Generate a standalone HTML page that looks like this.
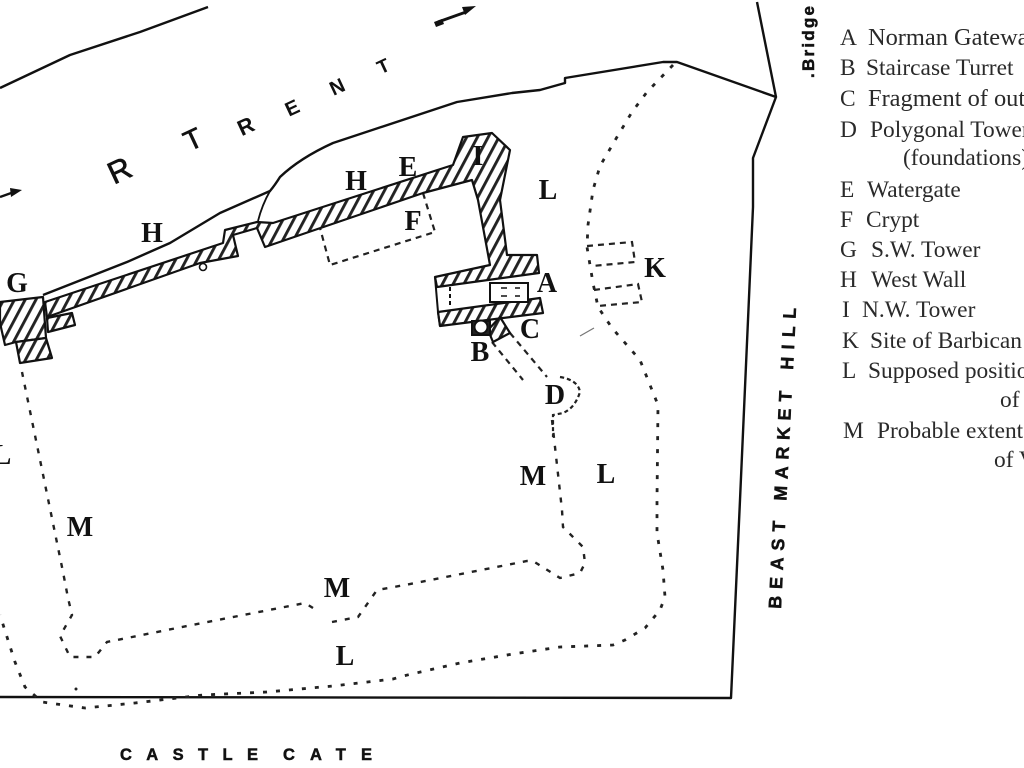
<!DOCTYPE html>
<html><head><meta charset="utf-8"><style>
html,body{margin:0;padding:0;background:#fff;width:1024px;height:768px;overflow:hidden}
svg{display:block}
.s{font-family:"Liberation Serif",serif;fill:#2a2a2a;font-size:23.4px}
.b{font-size:28px;font-weight:bold;text-anchor:middle;fill:#111;font-family:"Liberation Serif",serif}
.r{font-family:"Liberation Sans",sans-serif;fill:#111;text-anchor:middle;font-weight:bold}
.c{font-family:"Liberation Sans",sans-serif;font-weight:bold;fill:#111;stroke:#111;stroke-width:.5}
</style></head><body>
<svg width="1024" height="768" viewBox="0 0 1024 768" xmlns="http://www.w3.org/2000/svg">
<defs>
<pattern id="h" width="9.5" height="9.5" patternUnits="userSpaceOnUse" patternTransform="rotate(28)">
<rect width="9.5" height="9.5" fill="#fff"/><rect width="2.9" height="9.5" fill="#222"/>
</pattern>
</defs>
<g fill="none" stroke="#111" stroke-width="2.4" stroke-linejoin="round">
<path d="M0 88L70 55L140 32L208 7"/>
<path d="M757 2L776 97L753 158L753 207L748 320L740 500L731 698L0 697"/>
<path d="M776 97L677 62L663 62L565 78L565 83L540 90L512 93L457 102L333 143Q300 158 280 177Q275 185 270 191L220 213L170 243L127 262L43 295"/>
<path d="M270 191Q262 205 258 221" stroke-width="1.8"/>
</g>
<path d="M673 65L647 92L632 112L617 137L600 166L593 190L588 225L587 247L593 283L598 307L612 328L640 360L658 405L657 500L657 533L663 570L665 597L660 610L645 628L625 640L613 645L560 647L513 654L460 663L403 676L393 679L333 686L267 692L203 695L135 703L85 708L42 702L25 687L15 662L0 615" fill="none" stroke="#222" stroke-width="2.8" stroke-dasharray="4 9"/>
<path d="M22 372L63 572L68 598L72 615L60 636L70 657L95 657L107 642L187 626L305 603L313 608M332 622L358 617L377 590L405 585L527 561L533 561L560 578L580 573L585 563L583 547L563 527L562 510L552 420" fill="none" stroke="#222" stroke-width="2.4" stroke-dasharray="5 8"/>
<circle cx="76" cy="689" r="1.5" fill="#222"/>
<g fill="none" stroke="#222" stroke-width="2.2" stroke-dasharray="6 5">
<path d="M423 193L435 232L330 265L320 228"/>
<path d="M587 246L632 242L635 262L592 266"/>
<path d="M594 290L638 284L642 302L598 306"/>
<path d="M492 342L523 380M510 333L547 377"/>
<path d="M560 377Q578 380 580 392Q575 408 563 413L553 415L553 437" stroke-dasharray="4 3"/>
</g>
<g fill="url(#h)" stroke="#111" stroke-width="2.2" stroke-linejoin="round">
<path d="M45 302L223 243L225 230L257 222L273 223L453 165L463 137L492 133L510 150L500 200L507 255L537 255L539 273L437 287L435 277L490 265L478 200L472 180L423 193L300 235L265 247L257 228L233 235L238 256L200 263L47 317Z"/>
<path d="M438 312L540 298L543 313L440 326Z"/>
<path d="M0 302L43 297L46 338L16 342L5 345L0 323Z"/>
<path d="M16 342L46 338L52 358L20 363Z"/>
<path d="M47 318L72 313L75 325L48 332Z"/>
<path d="M500 317L510 333L493 342L488 330Z"/>
</g>
<g fill="none" stroke="#111" stroke-width="2">
<path d="M435 277L438 312L440 326"/>
<path d="M490 283H528V302H490Z" fill="#fff"/>
<path d="M450 287V308" stroke-dasharray="4 3"/>
<path d="M501 288H507M515 288H520M501 296H507M515 296H520" stroke-width="1.6"/>
<rect x="472" y="321" width="18" height="14" fill="#222"/>
<circle cx="481" cy="327" r="6.5" fill="#fff"/>
<circle cx="203" cy="267" r="3.5" fill="#fff" stroke-width="1.6"/>
<path d="M580 336L594 328" stroke="#777" stroke-width="1.2"/>
</g>
<path d="M0 197L14 192" stroke="#111" stroke-width="2.4"/><path d="M10 188L22 190L11 197Z" fill="#111"/>
<path d="M434 22L442 19L444 24L436 27Z" fill="#111"/>
<path d="M438 22L466 12" stroke="#111" stroke-width="2.8"/><path d="M462 7L476 6L465 15Z" fill="#111"/>
<text class="r" style="font-weight:normal" stroke="#111" stroke-width=".7" font-size="31" transform="translate(124 180) rotate(-25)">R</text>
<text class="r" style="font-weight:normal" stroke="#111" stroke-width=".7" font-size="28" transform="translate(197 148) rotate(-25)">T</text>
<text class="r" font-size="22" transform="translate(249 133) rotate(-25)">R</text>
<text class="r" font-size="20" transform="translate(295 114) rotate(-25)">E</text>
<text class="r" font-size="20" transform="translate(340 93) rotate(-25)">N</text>
<text class="r" font-size="19" transform="translate(386 72) rotate(-25)">T</text>
<text class="b" x="548" y="199">L</text><text class="b" x="356" y="190">H</text>
<text class="b" x="408" y="176">E</text><text class="b" x="413" y="230">F</text>
<text class="b" x="478" y="165">I</text><text class="b" x="655" y="277">K</text>
<text class="b" x="547" y="292">A</text><text class="b" x="530" y="338">C</text>
<text class="b" x="480" y="361">B</text><text class="b" x="555" y="404">D</text>
<text class="b" x="533" y="485">M</text><text class="b" x="606" y="483">L</text>
<text class="b" x="80" y="536">M</text><text class="b" x="337" y="597">M</text>
<text class="b" x="345" y="665">L</text><text class="b" x="17" y="292">G</text>
<text class="b" x="152" y="242">H</text><text class="b" x="2" y="464">L</text>
<text class="c" transform="translate(781 609) rotate(-87.2)" font-size="18" textLength="88" lengthAdjust="spacing">BEAST</text>
<text class="c" transform="translate(786.4 501) rotate(-87.2)" font-size="18" textLength="110" lengthAdjust="spacing">MARKET</text>
<text class="c" transform="translate(793 370) rotate(-87.2)" font-size="18" textLength="62" lengthAdjust="spacing">HILL</text>
<text class="c" x="120" y="760" font-size="16.5" textLength="138" lengthAdjust="spacing">CASTLE</text>
<text class="c" x="283" y="760" font-size="16.5" textLength="89" lengthAdjust="spacing">CATE</text>
<text class="c" transform="translate(814 78) rotate(-90)" font-size="17" textLength="72" lengthAdjust="spacing">.Bridge</text>
<g class="s">
<text x="840" y="45">A</text><text x="868" y="45" style="font-size:24.4px">Norman Gateway</text>
<text x="840" y="75">B</text><text x="866" y="75">Staircase Turret</text>
<text x="840" y="106">C</text><text x="868" y="106" style="font-size:24.4px">Fragment of outer</text>
<text x="840" y="137">D</text><text x="870" y="137">Polygonal Tower</text>
<text x="903" y="165">(foundations)</text>
<text x="840" y="197">E</text><text x="867" y="197">Watergate</text>
<text x="840" y="227">F</text><text x="866" y="227">Crypt</text>
<text x="840" y="257">G</text><text x="871" y="257">S.W. Tower</text>
<text x="840" y="287">H</text><text x="871" y="287">West Wall</text>
<text x="842" y="317">I</text><text x="862" y="317">N.W. Tower</text>
<text x="842" y="348">K</text><text x="870" y="348">Site of Barbican</text>
<text x="842" y="378">L</text><text x="868" y="378">Supposed position</text>
<text x="1000" y="407">of</text>
<text x="843" y="438">M</text><text x="877" y="438">Probable extent</text>
<text x="994" y="467">of V</text>
</g>
</svg>
</body></html>
